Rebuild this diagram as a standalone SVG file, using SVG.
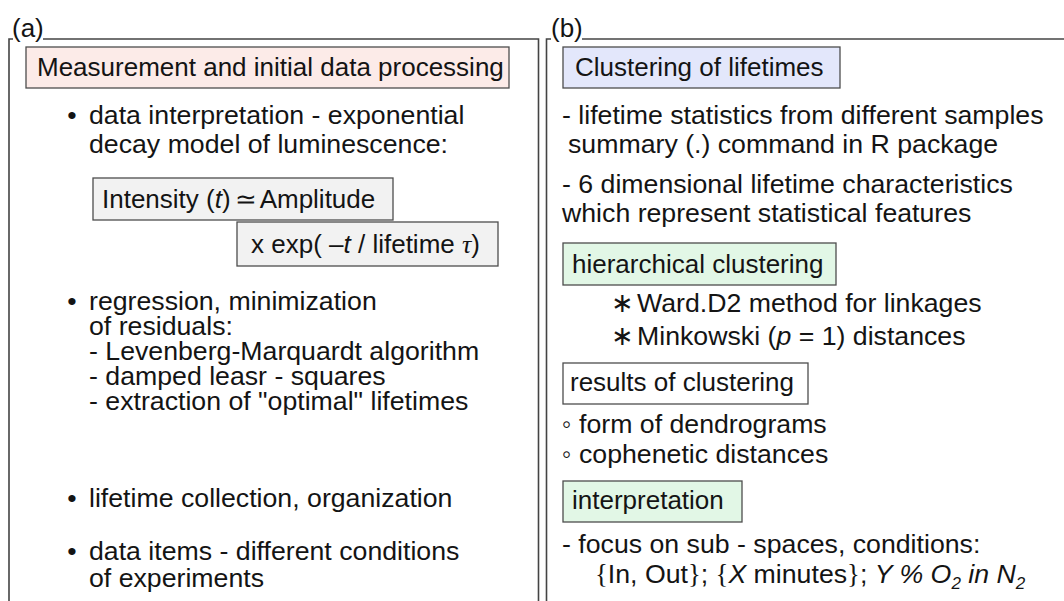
<svg xmlns="http://www.w3.org/2000/svg" width="1064" height="601" viewBox="0 0 1064 601">
  <style>
    .frame { fill: none; stroke: #444; stroke-width: 1.6; }
    .box { stroke: #4d4d4d; stroke-width: 1.3; }
    .t { font-family: "Liberation Sans", Arial, sans-serif; font-size: 26.7px; fill: #141414; }
    .h { font-size: 26px; }
    .it { font-style: italic; }
    .serif { font-family: "Liberation Serif", "Times New Roman", serif; }
    .pink { fill: #fcebe8; }
    .blue { fill: #e3e7fb; }
    .green { fill: #e2f7e6; }
    .grey { fill: #f2f2f2; }
    .white { fill: #ffffff; }
  </style>
  <rect width="1064" height="601" fill="#ffffff"/>

  <!-- panel frames with their labels set into the top edge -->
  <g id="frames">
    <path class="frame" d="M13,39 H9 V601"/>
    <path class="frame" d="M43,39 H538.5 V601"/>
    <path class="frame" d="M551,39 H546.5 V601"/>
    <path class="frame" d="M582,39 H1064"/>
    <text class="t h" x="12" y="37">(a)</text>
    <text class="t h" x="551" y="37">(b)</text>
  </g>

  <!-- panel (a): measurement and initial data processing -->
  <g id="a-title">
    <rect class="box pink" x="26" y="47" width="483" height="41"/>
    <text class="t h" x="37" y="76">Measurement and initial data processing</text>
  </g>

  <g id="a-interpretation">
    <text class="t" x="67.3" y="124">•</text>
    <text class="t" x="89" y="124">data interpretation - exponential<tspan x="89" dy="29">decay model of luminescence:</tspan></text>
  </g>

  <g id="a-formula-1">
    <rect class="box grey" x="93" y="178" width="300" height="42"/>
    <text class="t h" x="102" y="208">Intensity (<tspan class="it">t</tspan>)<tspan class="serif" dx="4">≃</tspan><tspan dx="3">Amplitude</tspan></text>
  </g>

  <g id="a-formula-2">
    <rect class="box grey" x="237" y="222" width="261" height="44"/>
    <text class="t h" x="251" y="253">x exp( –<tspan class="it">t</tspan> / lifetime <tspan class="serif it">τ</tspan>)</text>
  </g>

  <g id="a-regression">
    <text class="t" x="67.3" y="310">•</text>
    <text class="t" x="89" y="310">regression, minimization<tspan x="89" dy="25">of residuals:</tspan><tspan x="89" dy="25">- Levenberg-Marquardt algorithm</tspan><tspan x="89" dy="25">- damped leasr - squares</tspan><tspan x="89" dy="25">- extraction of "optimal" lifetimes</tspan></text>
  </g>

  <g id="a-collection">
    <text class="t" x="67.3" y="507">•</text>
    <text class="t" x="89" y="507">lifetime collection, organization</text>
  </g>

  <g id="a-items">
    <text class="t" x="67.3" y="560">•</text>
    <text class="t" x="89" y="560">data items - different conditions<tspan x="89" dy="27">of experiments</tspan></text>
  </g>

  <!-- panel (b): clustering of lifetimes -->
  <g id="b-title">
    <rect class="box blue" x="563" y="47" width="277" height="41"/>
    <text class="t h" x="575" y="76">Clustering of lifetimes</text>
  </g>

  <g id="b-statistics">
    <text class="t" x="562" y="124">- lifetime statistics from different samples<tspan x="568" dy="29">summary (.) command in R package</tspan></text>
    <text class="t" x="562" y="193">- 6 dimensional lifetime characteristics<tspan x="562" dy="29">which represent statistical features</tspan></text>
  </g>

  <g id="b-hierarchical">
    <rect class="box green" x="563" y="243" width="273" height="42"/>
    <text class="t h" x="572" y="273">hierarchical clustering</text>
    <text class="t" x="611" y="312"><tspan class="serif">∗</tspan><tspan x="637">Ward.D2 method for linkages</tspan><tspan class="serif" x="611" dy="33">∗</tspan><tspan x="637">Minkowski (<tspan class="it">p</tspan> = 1) distances</tspan></text>
  </g>

  <g id="b-results">
    <rect class="box white" x="563" y="363" width="245" height="41"/>
    <text class="t h" x="570" y="391">results of clustering</text>
    <text class="t" x="562" y="433">◦</text>
    <text class="t" x="579" y="433">form of dendrograms</text>
    <text class="t" x="562" y="463">◦</text>
    <text class="t" x="579" y="463">cophenetic distances</text>
  </g>

  <g id="b-interpretation">
    <rect class="box green" x="563" y="481" width="179" height="41"/>
    <text class="t h" x="572" y="509">interpretation</text>
    <text class="t" x="562" y="553">- focus on sub - spaces, conditions:<tspan x="595" dy="30"><tspan class="serif">{</tspan>In, Out<tspan class="serif">}</tspan>; <tspan class="serif">{</tspan><tspan class="it">X</tspan> minutes<tspan class="serif">}</tspan>; <tspan class="it">Y % O<tspan dy="6" font-size="17">2</tspan><tspan dy="-6"> in N</tspan><tspan dy="6" font-size="17">2</tspan></tspan></tspan></text>
  </g>
</svg>
